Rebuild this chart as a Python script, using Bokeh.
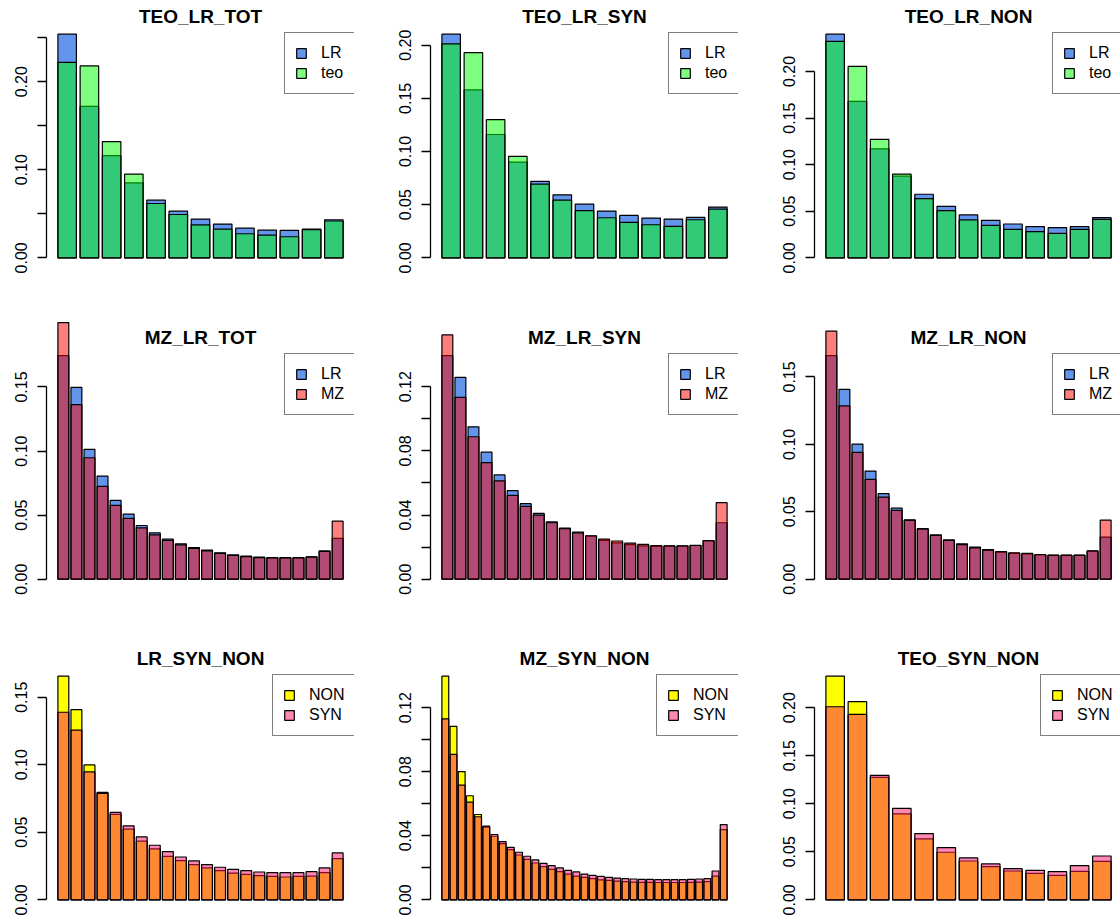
from bokeh.plotting import figure
from bokeh.layouts import column, row
from bokeh.models import (Range1d, FixedTicker, Legend, LegendItem, Label,
                          PrintfTickFormatter, ColumnDataSource)
from bokeh.embed import file_html
from bokeh.resources import INLINE

# ---------------- data ----------------
teo_lr_tot_LR = [0.254, 0.172, 0.116, 0.085, 0.0655, 0.053, 0.044, 0.0383, 0.0337, 0.0314, 0.0311, 0.0326, 0.0432]
teo_lr_tot_teo = [0.222, 0.218, 0.132, 0.095, 0.0617, 0.0492, 0.0375, 0.0326, 0.0273, 0.0258, 0.0239, 0.0320, 0.0418]

teo_lr_syn_LR = [0.2104, 0.158, 0.116, 0.090, 0.0719, 0.0593, 0.0505, 0.0440, 0.0399, 0.0374, 0.0364, 0.0380, 0.0477]
teo_lr_syn_teo = [0.2013, 0.193, 0.130, 0.0954, 0.0694, 0.0543, 0.0443, 0.0377, 0.0333, 0.0311, 0.0295, 0.0358, 0.0458]

teo_lr_non_LR = [0.2400, 0.168, 0.117, 0.0876, 0.0682, 0.0553, 0.0460, 0.0402, 0.0363, 0.0334, 0.0323, 0.0334, 0.0431]
teo_lr_non_teo = [0.2323, 0.2054, 0.1271, 0.0898, 0.0636, 0.0506, 0.0406, 0.0348, 0.0305, 0.0280, 0.0262, 0.0305, 0.0413]

mz_lr_tot_LR = [0.1745, 0.1497, 0.1013, 0.0805, 0.0615, 0.0508, 0.0419, 0.0362, 0.0313, 0.0276, 0.0247,
                0.0227, 0.0206, 0.0190, 0.0180, 0.0172, 0.0169, 0.0168, 0.0169, 0.0175, 0.0221, 0.0318]
mz_lr_tot_MZ = [0.2003, 0.1362, 0.0948, 0.0724, 0.0576, 0.0474, 0.0401, 0.0346, 0.0302, 0.0268, 0.0240,
                0.0221, 0.0201, 0.0185, 0.0176, 0.0169, 0.0167, 0.0166, 0.0167, 0.0173, 0.0216, 0.0453]

mz_lr_syn_LR = [0.1394, 0.1258, 0.0950, 0.0792, 0.0650, 0.0552, 0.0471, 0.0410, 0.0358, 0.0319, 0.0294,
                0.0268, 0.0242, 0.0227, 0.0215, 0.0208, 0.0204, 0.0206, 0.0207, 0.0210, 0.0240, 0.0352]
mz_lr_syn_MZ = [0.1523, 0.1133, 0.0888, 0.0727, 0.0613, 0.0523, 0.0454, 0.0400, 0.0352, 0.0315, 0.0288,
                0.0271, 0.0250, 0.0238, 0.0225, 0.0217, 0.0210, 0.0208, 0.0208, 0.0211, 0.0240, 0.0477]

mz_lr_non_LR = [0.1658, 0.1408, 0.1002, 0.0802, 0.0634, 0.0527, 0.0441, 0.0376, 0.0329, 0.0292, 0.0262,
                0.0238, 0.0220, 0.0200, 0.0192, 0.0187, 0.0180, 0.0176, 0.0176, 0.0177, 0.0208, 0.0312]
mz_lr_non_MZ = [0.1839, 0.1285, 0.0941, 0.0740, 0.0609, 0.0510, 0.0436, 0.0371, 0.0324, 0.0287, 0.0257,
                0.0233, 0.0215, 0.0205, 0.0196, 0.0191, 0.0183, 0.0178, 0.0178, 0.0178, 0.0210, 0.0438]

lr_syn_non_NON = [0.1656, 0.1408, 0.0999, 0.0796, 0.0632, 0.0523, 0.0434, 0.0377, 0.0322, 0.0290, 0.0260,
                  0.0236, 0.0216, 0.0198, 0.0188, 0.0179, 0.0174, 0.0169, 0.0174, 0.0176, 0.0201, 0.0305]
lr_syn_non_SYN = [0.1389, 0.1257, 0.0947, 0.0788, 0.0647, 0.0548, 0.0466, 0.0404, 0.0357, 0.0317, 0.0288,
                  0.0260, 0.0241, 0.0226, 0.0216, 0.0206, 0.0201, 0.0201, 0.0201, 0.0208, 0.0236, 0.0347]

mz_syn_non_NON = [0.1397, 0.1083, 0.0801, 0.0650, 0.0533, 0.0454, 0.0397, 0.0351, 0.0314, 0.0280, 0.0253,
                  0.0230, 0.0207, 0.0190, 0.0176, 0.0161, 0.0148, 0.0140, 0.0132, 0.0125, 0.0121, 0.0117,
                  0.0113, 0.0111, 0.0109, 0.0109, 0.0108, 0.0108, 0.0108, 0.0108, 0.0109, 0.0111, 0.0113,
                  0.0148, 0.0439]
mz_syn_non_SYN = [0.1131, 0.0909, 0.0717, 0.0610, 0.0519, 0.0460, 0.0408, 0.0364, 0.0328, 0.0297, 0.0272,
                  0.0249, 0.0228, 0.0213, 0.0199, 0.0184, 0.0174, 0.0161, 0.0153, 0.0146, 0.0140, 0.0136,
                  0.0132, 0.0130, 0.0128, 0.0128, 0.0126, 0.0126, 0.0126, 0.0126, 0.0128, 0.0130, 0.0132,
                  0.0180, 0.0470]

teo_syn_non_NON = [0.2328, 0.2063, 0.1275, 0.0895, 0.0634, 0.0495, 0.0404, 0.0345, 0.0300, 0.0275, 0.0254, 0.0296, 0.0401]
teo_syn_non_SYN = [0.2010, 0.1930, 0.1296, 0.0951, 0.0690, 0.0544, 0.0436, 0.0373, 0.0324, 0.0307, 0.0293, 0.0355, 0.0456]

titles = ["TEO_LR_TOT", "TEO_LR_SYN", "TEO_LR_NON",
          "MZ_LR_TOT", "MZ_LR_SYN", "MZ_LR_NON",
          "LR_SYN_NON", "MZ_SYN_NON", "TEO_SYN_NON"]

ticks_05_25 = [0.0, 0.05, 0.10, 0.15, 0.20, 0.25]
ticks_05_20 = [0.0, 0.05, 0.10, 0.15, 0.20]
ticks_05_15 = [0.0, 0.05, 0.10, 0.15]
ticks_02_12 = [0.0, 0.02, 0.04, 0.06, 0.08, 0.10, 0.12]
shown_10 = [0.0, 0.10, 0.20]
shown_04 = [0.0, 0.04, 0.08, 0.12]

# ---------------- style ----------------
FONT = "Liberation Sans"
C_LR, C_TEO, C_MZ = "#6495ED", "#00FF00", "#FF0000"
C_NON, C_SYN = "#FFFF00", "#FF1466"

panels = [
    (teo_lr_tot_LR, teo_lr_tot_teo, ("LR", "teo"), (C_LR, C_TEO), ticks_05_25, shown_10, 24),
    (teo_lr_syn_LR, teo_lr_syn_teo, ("LR", "teo"), (C_LR, C_TEO), ticks_05_20, ticks_05_20, 24),
    (teo_lr_non_LR, teo_lr_non_teo, ("LR", "teo"), (C_LR, C_TEO), ticks_05_20, ticks_05_20, 24),
    (mz_lr_tot_LR, mz_lr_tot_MZ, ("LR", "MZ"), (C_LR, C_MZ), ticks_05_15, ticks_05_15, 24),
    (mz_lr_syn_LR, mz_lr_syn_MZ, ("LR", "MZ"), (C_LR, C_MZ), ticks_02_12, shown_04, 24),
    (mz_lr_non_LR, mz_lr_non_MZ, ("LR", "MZ"), (C_LR, C_MZ), ticks_05_15, ticks_05_15, 24),
    (lr_syn_non_NON, lr_syn_non_SYN, ("NON", "SYN"), (C_NON, C_SYN), ticks_05_15, ticks_05_15, 36),
    (mz_syn_non_NON, mz_syn_non_SYN, ("NON", "SYN"), (C_NON, C_SYN), ticks_02_12, shown_04, 36),
    (teo_syn_non_NON, teo_syn_non_SYN, ("NON", "SYN"), (C_NON, C_SYN), ticks_05_20, ticks_05_20, 36),
]

# ---------------- geometry (pixels) ----------------
COL_W = [392, 384, 344]
BORDER_L = [46, 38, 38]
FRAME_W = [308, 308, 306]
PLOT_W = 308
ROW_H = [300, 321, 296]
FRAME_H = [266, 288, 287]
Y0_FROM_TOP = [257.3, 278.7, 278.3]
MAX_PX = 223.6
TITLE_PX = 241.5
LEG_PAD, LEG_GLYPH, LEG_STANDOFF, LEG_ITEM_H = 10, 12, 14, 20

rows = []
for r in range(3):
    figs = []
    for c in range(3):
        k = 3 * r + c
        first, second, names, colors, ticks, shown, lw = panels[k]
        n = len(first)
        M = max(first)
        s = MAX_PX / M
        fh = FRAME_H[r]
        below = fh - Y0_FROM_TOP[r]
        ys = -below / s
        ye = ys + fh / s
        span = 1.2 * n - 0.2
        xs = 0.2 - 0.04 * span
        xe_full = 1.2 * n + 0.04 * span
        xe = xs + (xe_full - xs) * FRAME_W[c] / PLOT_W

        p = figure(width=COL_W[c], height=ROW_H[r],
                   x_range=Range1d(xs, xe), y_range=Range1d(ys, ye),
                   x_axis_location=None, title=None,
                   min_border_left=BORDER_L[c],
                   min_border_right=COL_W[c] - BORDER_L[c] - FRAME_W[c],
                   min_border_top=0, min_border_bottom=ROW_H[r] - fh,
                   output_backend="svg", toolbar_location=None)
        p.outline_line_color = None
        p.grid.visible = False
        p.background_fill_color = "white"
        p.border_fill_color = "white"

        centers = [0.7 + 1.2 * i for i in range(n)]
        src1 = ColumnDataSource(dict(x=centers, top=first))
        src2 = ColumnDataSource(dict(x=centers, top=second))
        r1 = p.vbar(x="x", top="top", bottom=0, width=1.0, source=src1,
                    fill_color=colors[0], fill_alpha=1.0,
                    line_color="black", line_width=1.2)
        r2 = p.vbar(x="x", top="top", bottom=0, width=1.0, source=src2,
                    fill_color=colors[1], fill_alpha=0.5,
                    line_color="black", line_width=1.2)

        ax = p.yaxis[0]
        ax.ticker = FixedTicker(ticks=ticks)
        ax.formatter = PrintfTickFormatter(format="%.2f")
        ax.major_label_overrides = {t: "" for t in ticks if t not in shown}
        ax.bounds = (0, max(ticks))
        ax.major_label_orientation = "vertical"
        ax.major_tick_out = 9
        ax.major_tick_in = 0
        ax.minor_tick_out = 0
        ax.minor_tick_in = 0
        ax.axis_line_width = 1.3
        ax.major_tick_line_width = 1.3
        ax.axis_line_color = "black"
        ax.major_tick_line_color = "black"
        ax.major_label_text_font = FONT
        ax.major_label_text_font_size = "16px"
        ax.major_label_text_color = "black"
        ax.major_label_standoff = 10

        p.add_layout(Label(x=(xs + xe_full) / 2, y=TITLE_PX / s, text=titles[k],
                           text_align="center", text_baseline="middle",
                           text_font=FONT, text_font_style="bold",
                           text_font_size="19px", text_color="black"))

        leg_w = 2 * LEG_PAD + LEG_GLYPH + LEG_STANDOFF + lw
        leg_h = 2 * LEG_PAD + 2 * LEG_ITEM_H
        lx = PLOT_W - leg_w
        ly = below + MAX_PX - leg_h
        legend = Legend(items=[LegendItem(label=names[0], renderers=[r1]),
                               LegendItem(label=names[1], renderers=[r2])],
                        location=(lx, ly), orientation="vertical",
                        padding=LEG_PAD, spacing=0, margin=0,
                        glyph_width=LEG_GLYPH, glyph_height=LEG_GLYPH,
                        label_standoff=LEG_STANDOFF, label_width=lw,
                        label_height=LEG_ITEM_H,
                        label_text_font=FONT, label_text_font_size="16px",
                        label_text_color="black",
                        border_line_color="black", border_line_width=1.2,
                        background_fill_color="white", background_fill_alpha=1.0)
        p.add_layout(legend)
        figs.append(p)
    rows.append(row(*figs))

layout = column(*rows)
open("out.html", "w").write(file_html(layout, INLINE))
